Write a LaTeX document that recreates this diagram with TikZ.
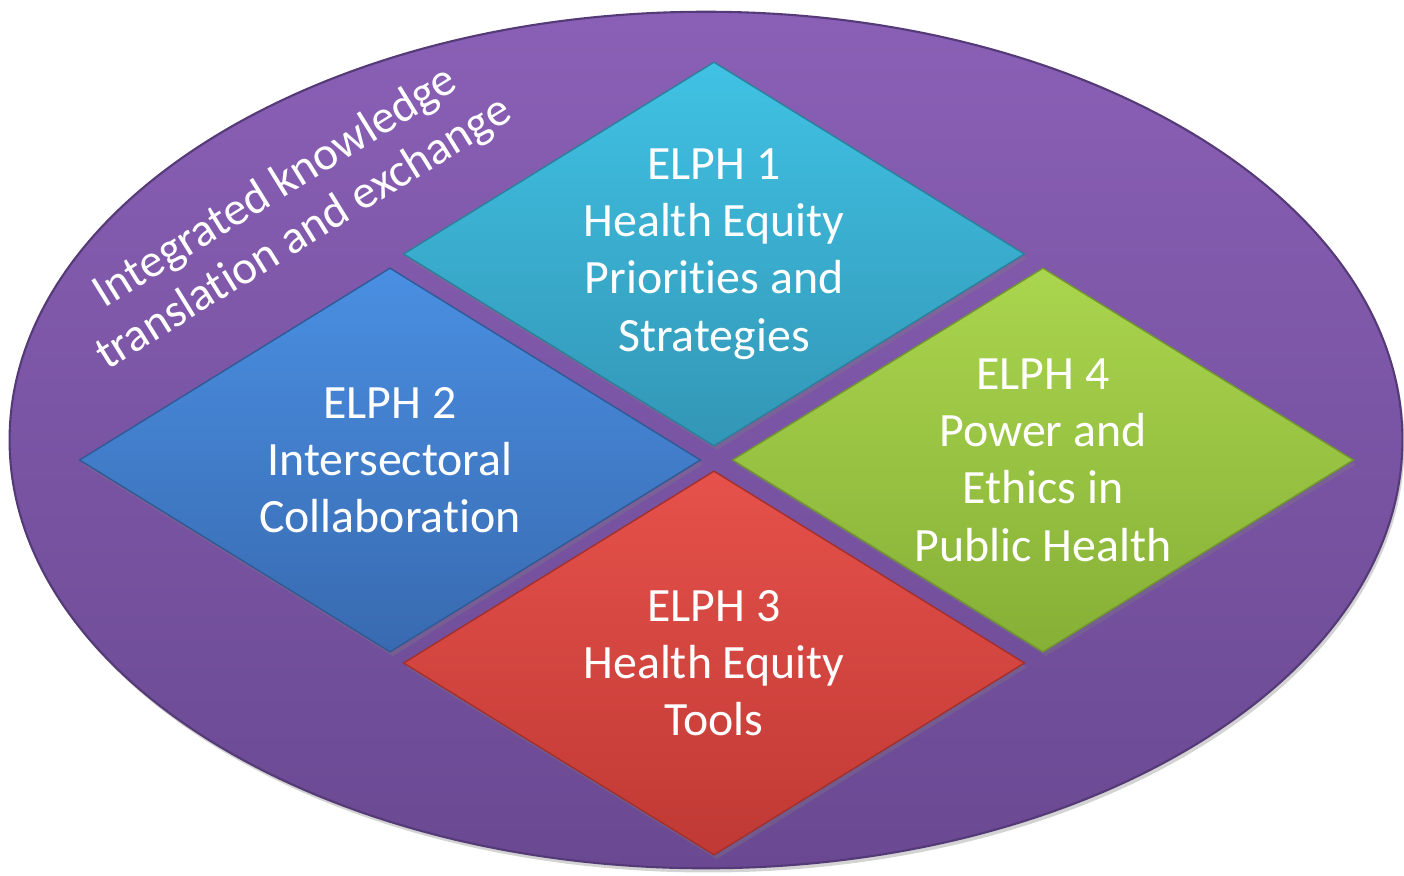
\documentclass[tikz,border=0pt]{standalone}
\usepackage{fontspec}
\setmainfont{Carlito}[Ligatures=NoCommon]
\usetikzlibrary{shapes.geometric,shadows,positioning}

\definecolor{fieldtop}{HTML}{8A60B6}
\definecolor{fieldbot}{HTML}{6A4992}
\definecolor{fieldrim}{HTML}{553A78}
\definecolor{cyantop}{HTML}{40C2E4}
\definecolor{cyanbot}{HTML}{3396B6}
\definecolor{bluetop}{HTML}{4A8FE2}
\definecolor{bluebot}{HTML}{386AB0}
\definecolor{greentop}{HTML}{AAD54E}
\definecolor{greenbot}{HTML}{86B036}
\definecolor{redtop}{HTML}{E6514B}
\definecolor{redbot}{HTML}{C03934}

\tikzstyle{field}=[ellipse,draw=fieldrim,line width=0.6pt,top color=fieldtop,bottom color=fieldbot,minimum width=13.92cm,minimum height=8.56cm,inner sep=0pt,drop shadow={opacity=0.35,shadow xshift=0.6pt,shadow yshift=-1.2pt}]
\tikzstyle{elph}=[diamond,inner sep=0pt,minimum width=6.21cm,minimum height=3.84cm,drop shadow={opacity=0.3,shadow xshift=0.8pt,shadow yshift=-1.2pt}]
\tikzstyle{elphtext}=[text=white,align=center,inner sep=0pt,font=\fontsize{13.6}{16.3}\selectfont]
\tikzstyle{banner}=[text=white,align=center,rotate=31.8,font=\fontsize{13.4}{15.4}\selectfont]

\begin{document}
\begin{tikzpicture}[x=0.01cm,y=-0.01cm]
    \useasboundingbox (0,0) rectangle (1404,875);

    % The purple field
    \node[field] (ikte) at (706,440) {};

    % Then the four ELPH diamonds
    \foreach \pos/\name/\col/\label in {{(714,254)/elph1/cyan/{ELPH 1\\Health Equity\\Priorities and\\Strategies}},
        {(390,460)/elph2/blue/{ELPH 2\\Intersectoral\\Collaboration}},
        {(1043,460)/elph4/green/{ELPH 4\\Power and\\Ethics in\\Public Health}},
        {(714,663)/elph3/red/{ELPH 3\\Health Equity\\Tools}}}
    {
        \node[elph,top color=\col top,bottom color=\col bot,draw=\col bot!85!black,line width=0.4pt] (\name) at \pos {};
        \node[elphtext] (\name text) at (\name.center) {\label};
    }

    % Label on the field
    \node[banner] (iktelabel) at (290,211) {Integrated knowledge\\translation and exchange};

\end{tikzpicture}
\end{document}
